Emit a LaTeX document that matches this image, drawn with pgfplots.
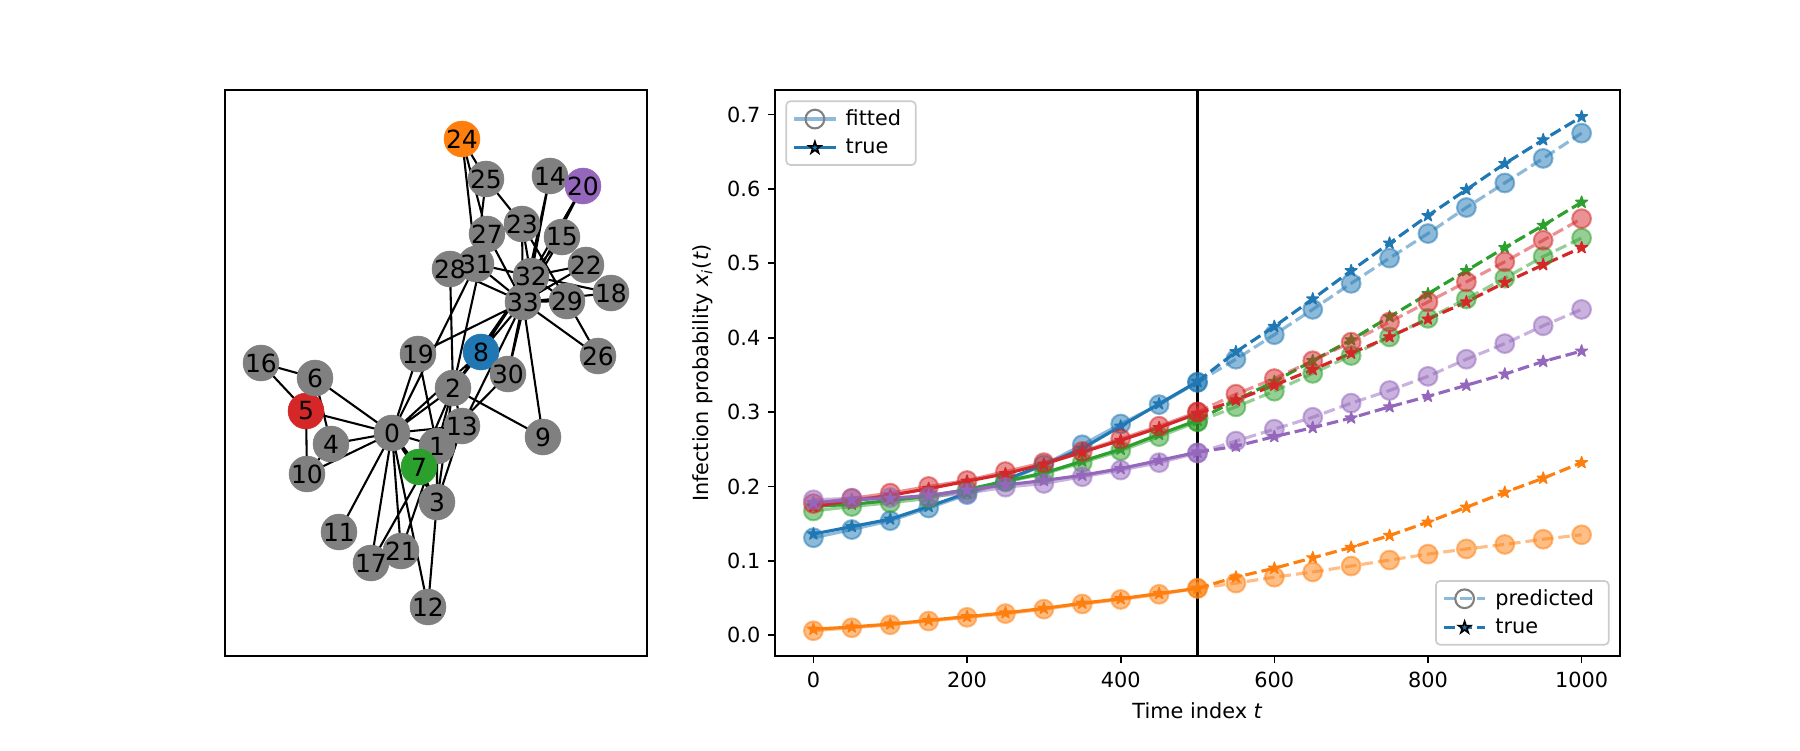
\documentclass[border=0pt]{standalone}
\usepackage{fontspec}
\setmainfont{DejaVu Sans}
\usepackage{pgfplots}
\usepackage{pgfplotstable}
\pgfplotsset{compat=1.18}
\definecolor{c0}{HTML}{1F77B4}
\definecolor{c1}{HTML}{FF7F0E}
\definecolor{c2}{HTML}{2CA02C}
\definecolor{c3}{HTML}{D62728}
\definecolor{c4}{HTML}{9467BD}
\definecolor{nxg}{HTML}{808080}
\pgfdeclareplotmark{fstar}{%
  \pgfpathmoveto{\pgfpointpolar{90}{\pgfplotmarksize}}%
  \pgfpathlineto{\pgfpointpolar{126}{0.382\pgfplotmarksize}}%
  \pgfpathlineto{\pgfpointpolar{162}{\pgfplotmarksize}}%
  \pgfpathlineto{\pgfpointpolar{198}{0.382\pgfplotmarksize}}%
  \pgfpathlineto{\pgfpointpolar{234}{\pgfplotmarksize}}%
  \pgfpathlineto{\pgfpointpolar{270}{0.382\pgfplotmarksize}}%
  \pgfpathlineto{\pgfpointpolar{306}{\pgfplotmarksize}}%
  \pgfpathlineto{\pgfpointpolar{342}{0.382\pgfplotmarksize}}%
  \pgfpathlineto{\pgfpointpolar{18}{\pgfplotmarksize}}%
  \pgfpathlineto{\pgfpointpolar{54}{0.382\pgfplotmarksize}}%
  \pgfpathclose
  \pgfusepathqfillstroke
}
\pgfplotstableread{
x y c lab
392 433 g 0
437 446 g 1
453 388 g 2
437 502 g 3
331 444 g 4
306 411 r 5
315 378 g 6
419 467 e 7
481 352 b 8
543 437 g 9
307 474 g 10
339 532 g 11
428 607 g 12
462 426 g 13
550 176 g 14
562 237 g 15
261 363 g 16
371 563 g 17
611 293 g 18
418 354 g 19
583 186 p 20
401 551 g 21
586 265 g 22
522 224 g 23
462 139 o 24
486 179 g 25
598 356 g 26
487 234 g 27
450 269 g 28
567 301 g 29
508 374 g 30
476 264 g 31
531 276 g 32
523 302 g 33
}\nodestab
\pgfplotsset{
  fitstyle/.style={#1, opacity=0.5, line width=1.5pt, mark=*, mark size=4.5pt,
    mark options={solid, fill=#1, line width=1pt}},
  truestyle/.style={#1, line width=1.5pt, mark=fstar, mark size=3.0pt,
    mark options={solid, fill=#1, line width=0.6pt, line join=round}},
  mpldash/.style={dash pattern=on 5.55pt off 2.4pt},
}
\begin{document}
\begin{tikzpicture}
\fill[white] (0pt,0pt) rectangle (864pt,360pt);
\path[use as bounding box] (0pt,0pt) rectangle (864pt,360pt);
% ---------------- network panel ----------------
\begin{axis}[
  at={(108pt,45.12pt)}, anchor=south west, scale only axis,
  width=202.56pt, height=271.68pt,
  xmin=225, xmax=647, ymin=90, ymax=656, y dir=reverse,
  xtick=\empty, ytick=\empty,
  axis line style={line width=0.8pt},
]
\addplot[black, line width=1pt, unbounded coords=jump] coordinates {
(392,433)(437,446) (nan,nan) (392,433)(453,388) (nan,nan) (392,433)(437,502) (nan,nan)
(392,433)(331,444) (nan,nan) (392,433)(306,411) (nan,nan) (392,433)(315,378) (nan,nan)
(392,433)(419,467) (nan,nan) (392,433)(481,352) (nan,nan) (392,433)(307,474) (nan,nan)
(392,433)(339,532) (nan,nan) (392,433)(428,607) (nan,nan) (392,433)(462,426) (nan,nan)
(392,433)(371,563) (nan,nan) (392,433)(418,354) (nan,nan) (392,433)(401,551) (nan,nan)
(392,433)(476,264) (nan,nan)
(437,446)(453,388) (nan,nan) (437,446)(437,502) (nan,nan) (437,446)(419,467) (nan,nan)
(437,446)(462,426) (nan,nan) (437,446)(371,563) (nan,nan) (437,446)(418,354) (nan,nan)
(437,446)(401,551) (nan,nan) (437,446)(508,374) (nan,nan)
(453,388)(437,502) (nan,nan) (453,388)(419,467) (nan,nan) (453,388)(481,352) (nan,nan)
(453,388)(543,437) (nan,nan) (453,388)(462,426) (nan,nan) (453,388)(487,234) (nan,nan)
(453,388)(450,269) (nan,nan) (453,388)(531,276) (nan,nan)
(437,502)(419,467) (nan,nan) (437,502)(428,607) (nan,nan) (437,502)(462,426) (nan,nan)
(331,444)(315,378) (nan,nan) (331,444)(307,474) (nan,nan)
(306,411)(315,378) (nan,nan) (306,411)(307,474) (nan,nan) (306,411)(261,363) (nan,nan)
(315,378)(261,363) (nan,nan)
(481,352)(508,374) (nan,nan) (481,352)(531,276) (nan,nan) (481,352)(523,302) (nan,nan)
(543,437)(523,302) (nan,nan) (462,426)(523,302) (nan,nan)
(550,176)(531,276) (nan,nan) (550,176)(523,302) (nan,nan)
(562,237)(531,276) (nan,nan) (562,237)(523,302) (nan,nan)
(611,293)(531,276) (nan,nan) (611,293)(523,302) (nan,nan)
(418,354)(523,302) (nan,nan)
(583,186)(531,276) (nan,nan) (583,186)(523,302) (nan,nan)
(586,265)(531,276) (nan,nan) (586,265)(523,302) (nan,nan)
(522,224)(486,179) (nan,nan) (522,224)(487,234) (nan,nan) (522,224)(567,301) (nan,nan)
(522,224)(531,276) (nan,nan) (522,224)(523,302) (nan,nan)
(462,139)(486,179) (nan,nan) (462,139)(487,234) (nan,nan) (462,139)(476,264) (nan,nan)
(486,179)(476,264) (nan,nan)
(598,356)(567,301) (nan,nan) (598,356)(523,302) (nan,nan)
(487,234)(523,302) (nan,nan)
(450,269)(476,264) (nan,nan) (450,269)(523,302) (nan,nan)
(567,301)(531,276) (nan,nan) (567,301)(523,302) (nan,nan)
(508,374)(531,276) (nan,nan) (508,374)(523,302) (nan,nan)
(476,264)(531,276) (nan,nan) (476,264)(523,302) (nan,nan)
(531,276)(523,302)
};
\addplot[scatter, only marks, mark=*, mark size=8.65pt,
  scatter src=explicit symbolic,
  scatter/classes={
    g={mark=*, fill=nxg, draw=nxg},
    r={mark=*, fill=c3, draw=c3},
    e={mark=*, fill=c2, draw=c2},
    b={mark=*, fill=c0, draw=c0},
    p={mark=*, fill=c4, draw=c4},
    o={mark=*, fill=c1, draw=c1}},
  mark options={line width=0.2pt}]
  table[x=x, y=y, meta=c] {\nodestab};
\addplot[only marks, mark=none, nodes near coords, point meta=explicit symbolic,
  nodes near coords style={anchor=center, inner sep=0pt, text=black,
    font=\fontsize{12}{14}\selectfont}]
  table[x=x, y=y, meta=lab] {\nodestab};
\end{axis}
% ---------------- time series panel ----------------
\begin{axis}[
  at={(372pt,45.12pt)}, anchor=south west, scale only axis,
  width=405.6pt, height=271.68pt,
  xmin=-50, xmax=1050, ymin=-0.028, ymax=0.733,
  xtick={0,200,400,600,800,1000},
  ytick={0,0.1,0.2,0.3,0.4,0.5,0.6,0.7},
  yticklabel style={/pgf/number format/.cd, fixed, fixed zerofill, precision=1},
  xticklabel style={/pgf/number format/1000 sep={}, yshift=-0.8pt},
  /pgf/number format/assume math mode=true,
  tick align=outside, tick pos=left, major tick length=3.5pt,
  tick style={black, line width=0.8pt},
  axis line style={line width=0.8pt},
  xlabel={Time index \textit{t}},
  ylabel={Infection probability \textit{x}\textsubscript{\textit{i}}(\textit{t})},
  legend cell align=left,
  legend image code/.code={\draw[mark repeat=2, mark phase=2, #1] plot coordinates {(0pt,0pt) (10pt,0pt) (20pt,0pt)};},
  legend style={at={(0,1)}, anchor=north west, xshift=5pt, yshift=-5pt,
    draw=black!20, rounded corners=2pt, fill=white, line width=0.8pt,
    inner xsep=3pt, inner ysep=2pt, row sep=1pt,
    nodes={inner xsep=4pt, inner ysep=2pt}},
]
% blue (node 8)
\addplot[fitstyle=c0, forget plot] coordinates {(0,0.131)(50,0.142)(100,0.154)(150,0.171)(200,0.189)(250,0.207)(300,0.229)(350,0.256)(400,0.284)(450,0.310)(500,0.340)};
\addplot[truestyle=c0, forget plot] coordinates {(0,0.136)(50,0.146)(100,0.156)(150,0.173)(200,0.191)(250,0.209)(300,0.229)(350,0.251)(400,0.281)(450,0.311)(500,0.341)};
\addplot[fitstyle=c0, mpldash, forget plot] coordinates {(500,0.340)(550,0.371)(600,0.404)(650,0.438)(700,0.473)(750,0.507)(800,0.540)(850,0.575)(900,0.608)(950,0.641)(1000,0.675)};
\addplot[truestyle=c0, mpldash, forget plot] coordinates {(500,0.341)(550,0.381)(600,0.415)(650,0.452)(700,0.490)(750,0.527)(800,0.564)(850,0.599)(900,0.634)(950,0.666)(1000,0.697)};
% orange (node 24)
\addplot[fitstyle=c1, forget plot] coordinates {(0,0.006)(50,0.010)(100,0.014)(150,0.019)(200,0.024)(250,0.029)(300,0.035)(350,0.042)(400,0.048)(450,0.055)(500,0.063)};
\addplot[truestyle=c1, forget plot] coordinates {(0,0.008)(50,0.011)(100,0.015)(150,0.020)(200,0.025)(250,0.030)(300,0.036)(350,0.043)(400,0.049)(450,0.056)(500,0.063)};
\addplot[fitstyle=c1, mpldash, forget plot] coordinates {(500,0.063)(550,0.070)(600,0.078)(650,0.085)(700,0.093)(750,0.101)(800,0.109)(850,0.116)(900,0.122)(950,0.129)(1000,0.135)};
\addplot[truestyle=c1, mpldash, forget plot] coordinates {(500,0.063)(550,0.078)(600,0.090)(650,0.104)(700,0.118)(750,0.134)(800,0.152)(850,0.172)(900,0.192)(950,0.211)(1000,0.232)};
% green (node 7)
\addplot[fitstyle=c2, forget plot] coordinates {(0,0.167)(50,0.173)(100,0.178)(150,0.184)(200,0.195)(250,0.206)(300,0.217)(350,0.232)(400,0.248)(450,0.267)(500,0.287)};
\addplot[truestyle=c2, forget plot] coordinates {(0,0.173)(50,0.176)(100,0.181)(150,0.187)(200,0.196)(250,0.207)(300,0.218)(350,0.234)(400,0.250)(450,0.270)(500,0.289)};
\addplot[fitstyle=c2, mpldash, forget plot] coordinates {(500,0.287)(550,0.307)(600,0.328)(650,0.352)(700,0.376)(750,0.401)(800,0.426)(850,0.452)(900,0.480)(950,0.509)(1000,0.534)};
\addplot[truestyle=c2, mpldash, forget plot] coordinates {(500,0.289)(550,0.316)(600,0.341)(650,0.369)(700,0.397)(750,0.428)(800,0.459)(850,0.490)(900,0.521)(950,0.551)(1000,0.582)};
% red (node 5)
\addplot[fitstyle=c3, forget plot] coordinates {(0,0.177)(50,0.184)(100,0.191)(150,0.200)(200,0.208)(250,0.220)(300,0.232)(350,0.247)(400,0.264)(450,0.281)(500,0.300)};
\addplot[truestyle=c3, forget plot] coordinates {(0,0.173)(50,0.181)(100,0.188)(150,0.197)(200,0.207)(250,0.217)(300,0.230)(350,0.246)(400,0.262)(450,0.279)(500,0.298)};
\addplot[fitstyle=c3, mpldash, forget plot] coordinates {(500,0.300)(550,0.324)(600,0.345)(650,0.369)(700,0.394)(750,0.421)(800,0.448)(850,0.475)(900,0.502)(950,0.531)(1000,0.560)};
\addplot[truestyle=c3, mpldash, forget plot] coordinates {(500,0.298)(550,0.316)(600,0.336)(650,0.357)(700,0.379)(750,0.401)(800,0.425)(850,0.448)(900,0.474)(950,0.498)(1000,0.521)};
% purple (node 20)
\addplot[fitstyle=c4, forget plot] coordinates {(0,0.182)(50,0.184)(100,0.185)(150,0.186)(200,0.191)(250,0.199)(300,0.204)(350,0.213)(400,0.222)(450,0.232)(500,0.245)};
\addplot[truestyle=c4, forget plot] coordinates {(0,0.178)(50,0.182)(100,0.184)(150,0.188)(200,0.195)(250,0.202)(300,0.208)(350,0.215)(400,0.224)(450,0.235)(500,0.246)};
\addplot[fitstyle=c4, mpldash, forget plot] coordinates {(500,0.245)(550,0.261)(600,0.277)(650,0.293)(700,0.312)(750,0.329)(800,0.348)(850,0.371)(900,0.392)(950,0.416)(1000,0.438)};
\addplot[truestyle=c4, mpldash, forget plot] coordinates {(500,0.246)(550,0.254)(600,0.267)(650,0.279)(700,0.292)(750,0.307)(800,0.321)(850,0.336)(900,0.351)(950,0.368)(1000,0.382)};
% split line
\addplot[black, line width=1.5pt, forget plot] coordinates {(500,-0.1)(500,0.8)};
\addlegendimage{c0, draw opacity=0.5, line width=1.5pt, mark=o, mark size=4.5pt,
  mark options={draw=nxg, draw opacity=1, line width=1pt}}
\addlegendentry{fitted}
\addlegendimage{c0, line width=1.5pt, mark=fstar, mark size=3.0pt,
  mark options={draw=black, fill=none, line width=0.8pt}}
\addlegendentry{true}
\end{axis}
% second legend
\begin{axis}[
  at={(372pt,45.12pt)}, anchor=south west, scale only axis,
  width=405.6pt, height=271.68pt,
  xmin=0, xmax=1, ymin=0, ymax=1, hide axis,
  legend cell align=left,
  legend image code/.code={\draw[mark repeat=2, mark phase=2, #1] plot coordinates {(0pt,0pt) (10pt,0pt) (20pt,0pt)};},
  legend style={at={(1,0)}, anchor=south east, xshift=-5pt, yshift=5pt,
    draw=black!20, rounded corners=2pt, fill=white, line width=0.8pt,
    inner xsep=3pt, inner ysep=2pt, row sep=1pt,
    nodes={inner xsep=4pt, inner ysep=2pt}},
]
\addplot[draw=none, forget plot] coordinates {(0,0)};
\addlegendimage{c0, draw opacity=0.5, line width=1.5pt, mpldash, mark=o, mark size=4.5pt,
  mark options={solid, draw=nxg, draw opacity=1, line width=1pt}}
\addlegendentry{predicted}
\addlegendimage{c0, line width=1.5pt, mpldash, mark=fstar, mark size=3.0pt,
  mark options={solid, draw=black, fill=none, line width=0.8pt}}
\addlegendentry{true}
\end{axis}
\end{tikzpicture}
\end{document}
